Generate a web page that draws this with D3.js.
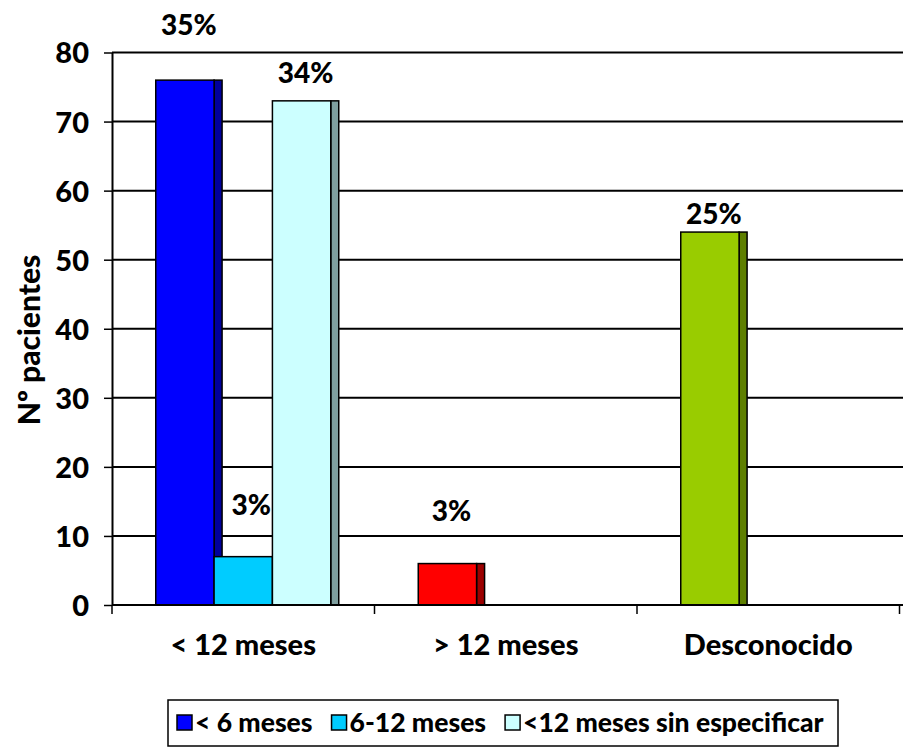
<!DOCTYPE html>
<html>
<head>
<meta charset="utf-8">
<script src="https://cdn.jsdelivr.net/npm/d3@7"></script>
<style>
  html, body { margin: 0; padding: 0; background: #fff; }
  svg { display: block; }
  text { font-family: Lato, "Open Sans", sans-serif; font-weight: 900; fill: #000; }
</style>
</head>
<body>
<svg id="chart" width="903" height="751"></svg>
<script>
// Categories and series
const categories = ["< 12 meses", "> 12 meses", "Desconocido"];
const seriesNames = ["< 6 meses", "6-12 meses", "<12 meses sin especificar"];
const lessThan6 = [76, 6, 54];
const from6to12 = [7, 0, 0];
const unspecified = [73, 0, 0];
const yTicks = [0, 10, 20, 30, 40, 50, 60, 70, 80];
const yTitle = "Nº pacientes";

const seriesValues = [lessThan6, from6to12, unspecified];

// Fill colours (front face, side face). The first series colours each category differently.
const seriesFront = ["#0000FF", "#00CCFF", "#CCFFFF"];
const seriesSide = ["#00009C", "#0099BF", "#7F9F9F"];
const firstSeriesFront = ["#0000FF", "#FF0000", "#99CC00"];
const firstSeriesSide = ["#00009C", "#9C0000", "#5E7F00"];

const total = d3.sum(seriesValues.flat());

const svg = d3.select("#chart");
const W = 903, H = 751;
svg.append("rect").attr("width", W).attr("height", H).attr("fill", "#fff");

const plotLeft = 112, plotRight = 899.5, plotTop = 52.5, plotBottom = 605;
const depth = 8;

const x = d3.scaleBand().domain(d3.range(categories.length)).range([plotLeft, plotRight]).paddingInner(0).paddingOuter(0);
const xs = d3.scaleBand().domain(d3.range(seriesNames.length)).range([0, x.bandwidth()]).paddingInner(0).paddingOuter(0.75);
const y = d3.scaleLinear().domain([0, 80]).range([plotBottom, plotTop]);

// Horizontal gridlines
svg.append("g").selectAll("line").data(yTicks).join("line")
  .attr("x1", plotLeft).attr("x2", W)
  .attr("y1", d => y(d)).attr("y2", d => y(d))
  .attr("stroke", "#000").attr("stroke-width", 2);

// Y axis
const yAxis = svg.append("g").attr("transform", `translate(${plotLeft},0)`)
  .call(d3.axisLeft(y).tickValues(yTicks).tickSize(8).tickPadding(15).tickSizeOuter(0));
yAxis.select(".domain").attr("stroke", "#000").attr("stroke-width", 2);
yAxis.selectAll(".tick line").attr("stroke", "#000").attr("stroke-width", 1.5);
yAxis.selectAll(".tick text")
  .attr("fill", "#000")
  .style("font-size", "29px").style("font-family", "Lato").style("font-weight", "900")
  .attr("dy", "0.36em");

// X axis ticks at category boundaries
const boundaries = d3.range(categories.length + 1).map(i => i < categories.length ? x(i) : plotRight);
svg.append("g").selectAll("line").data(boundaries).join("line")
  .attr("x1", d => d).attr("x2", d => d)
  .attr("y1", plotBottom).attr("y2", plotBottom + 9)
  .attr("stroke", "#000").attr("stroke-width", 1.5);

// Bars
const bars = [];
seriesValues.forEach((vals, s) => {
  vals.forEach((v, c) => {
    if (v <= 0) return;
    bars.push({
      s, c, v,
      front: s === 0 ? firstSeriesFront[c] : seriesFront[s],
      side: s === 0 ? firstSeriesSide[c] : seriesSide[s]
    });
  });
});

const barG = svg.append("g");
// later series drawn on top so their front hides the previous side face
bars.forEach(b => {
  const x0 = x(b.c) + xs(b.s);
  const w = xs.bandwidth();
  barG.append("rect")
    .attr("x", x0 + w).attr("y", y(b.v))
    .attr("width", depth).attr("height", y(0) - y(b.v))
    .attr("fill", b.side).attr("stroke", "#000").attr("stroke-width", 1.5);
  barG.append("rect")
    .attr("x", x0).attr("y", y(b.v))
    .attr("width", w).attr("height", y(0) - y(b.v))
    .attr("fill", b.front).attr("stroke", "#000").attr("stroke-width", 1.5);
});

// X axis baseline on top of bars
svg.append("line").attr("x1", plotLeft).attr("x2", W).attr("y1", plotBottom).attr("y2", plotBottom)
  .attr("stroke", "#000").attr("stroke-width", 2);

// Percentage labels; gap above each bar top
const labelGap = { "0-0": 45, "0-1": 43, "0-2": 8, "1-0": 42, "2-0": 18 };
svg.append("g").selectAll("text").data(bars).join("text")
  .attr("x", b => x(b.c) + xs(b.s) + (xs.bandwidth() + depth) / 2 + (b.s === 1 ? 4 : 0))
  .attr("y", b => y(b.v) - labelGap[b.s + "-" + b.c])
  .attr("text-anchor", "middle")
  .style("font-size", "28px")
  .text(b => Math.round(b.v / total * 100) + "%");

// Category labels
svg.append("g").selectAll("text").data(categories).join("text")
  .attr("x", (d, i) => x(i) + x.bandwidth() / 2)
  .attr("y", 655)
  .attr("text-anchor", "middle")
  .style("font-size", "29px")
  .text(d => d);

// Y axis title
svg.append("text")
  .attr("transform", "translate(40,340) rotate(-90)")
  .attr("text-anchor", "middle")
  .style("font-size", "30px")
  .text(yTitle);

// Legend: markers and names laid out left to right from measured text widths
const lg = svg.append("g");
lg.append("rect").attr("x", 168).attr("y", 700).attr("width", 670).attr("height", 46)
  .attr("fill", "#fff").attr("stroke", "#000").attr("stroke-width", 1.5);
let cursor = 177;
seriesNames.forEach((name, i) => {
  lg.append("rect").attr("x", cursor).attr("y", 715).attr("width", 15).attr("height", 15)
    .attr("fill", seriesFront[i]).attr("stroke", "#000").attr("stroke-width", 1.5);
  const t = lg.append("text").attr("x", cursor + 18).attr("y", 732)
    .style("font-size", "26.5px").text(name);
  cursor += 18 + t.node().getComputedTextLength() + 19;
});
</script>
</body>
</html>
